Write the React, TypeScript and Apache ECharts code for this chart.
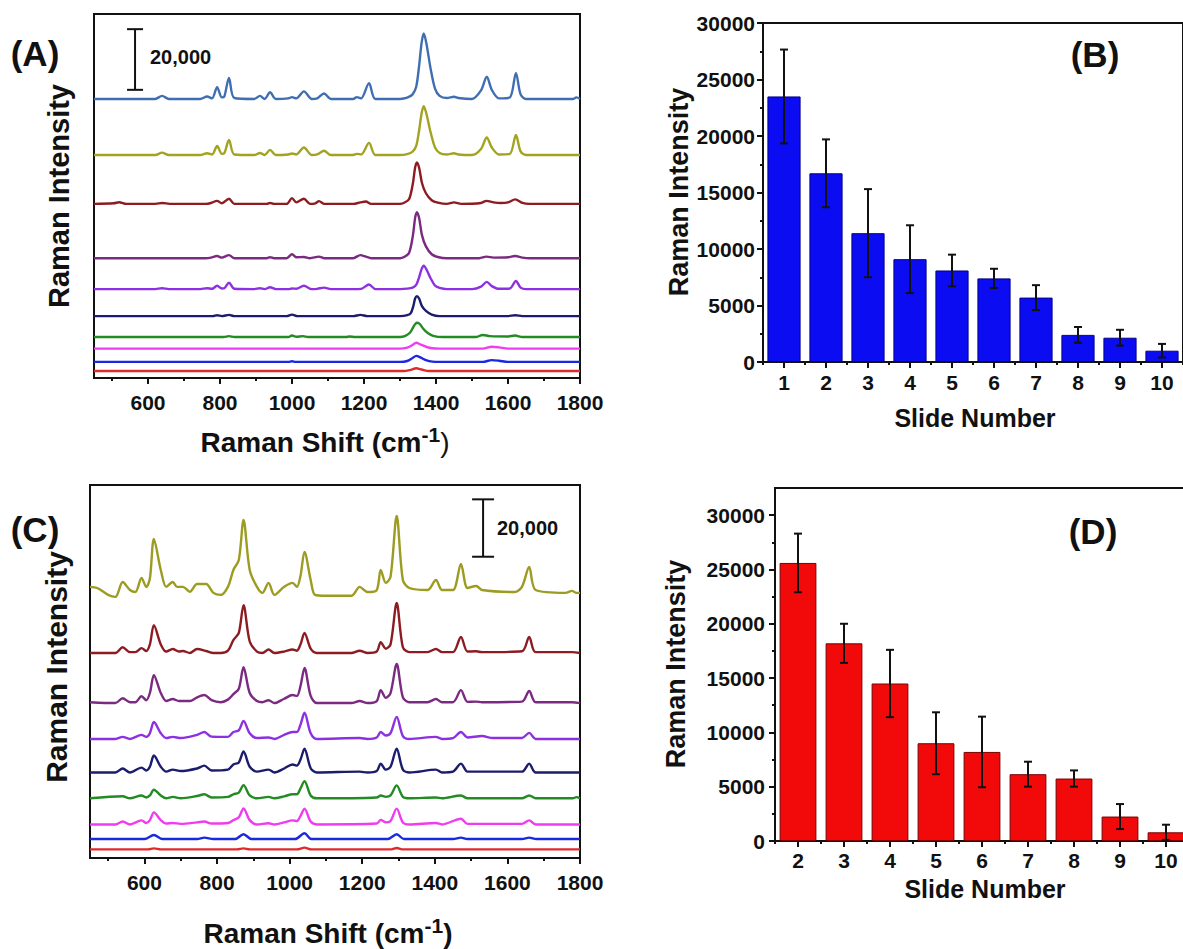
import React, { useEffect, useRef } from 'react';
import * as echarts from 'echarts';

const FONT = '"Liberation Sans", Arial, Helvetica, sans-serif';
const INK = '#111111';

// ---------- Panel A : Raman spectra (offset stacks) ----------
const shiftTicks = [600, 800, 1000, 1200, 1400, 1600, 1800];
const shiftMinorTicks = [500, 700, 900, 1100, 1300, 1500, 1700];
const colorsA = ['#3f6fb2', '#a3a322', '#8c1c22', '#7a2a80', '#8c30e2', '#1c1c6e', '#228b22', '#f03cf0', '#1a28e0', '#e02a2a'];
const offsetsA = [92000, 73500, 57400, 39500, 29300, 20400, 13500, 9700, 5300, 2300];
const specA1 = [[450,0],[620,0],[639,1000],[658,0],[745,0],[764,800],[778,200],[792,3900],[805,500],[812,800],[825,6900],[840,300],[895,0],[911,1000],[924,0],[939,2200],[955,0],[990,200],[1000,600],[1012,200],[1033,2500],[1055,0],[1070,200],[1089,1800],[1108,0],[1170,0],[1180,600],[1192,200],[1214,5200],[1232,0],[1300,0],[1320,400],[1335,1500],[1345,4000],[1353,10800],[1360,18500],[1366,21600],[1373,18500],[1385,10000],[1397,3500],[1410,1000],[1430,300],[1450,700],[1462,300],[1500,0],[1525,2800],[1541,7300],[1555,3000],[1575,200],[1605,500],[1622,8500],[1635,1500],[1650,0],[1780,0],[1790,500],[1800,0]];
const specA2 = [[450,0],[620,0],[639,800],[658,0],[745,0],[764,600],[778,200],[792,3000],[805,400],[812,600],[825,5000],[840,200],[895,0],[911,700],[924,0],[939,1700],[955,0],[990,200],[1000,500],[1012,200],[1033,2500],[1055,0],[1070,200],[1089,1400],[1108,0],[1170,0],[1180,400],[1192,200],[1214,4000],[1232,0],[1300,0],[1320,300],[1335,1100],[1345,3000],[1353,8000],[1360,13800],[1366,16100],[1373,13800],[1385,7500],[1397,2600],[1410,700],[1430,200],[1450,600],[1462,200],[1500,0],[1525,2000],[1541,5800],[1555,2500],[1575,200],[1605,400],[1622,6600],[1635,1200],[1650,0],[1800,0]];
const specA3 = [[450,0],[505,200],[520,550],[540,0],[620,0],[640,300],[660,0],[760,0],[775,300],[792,1000],[805,200],[825,1700],[840,0],[930,0],[939,300],[950,0],[985,0],[1000,1900],[1012,500],[1033,1700],[1050,0],[1065,200],[1075,900],[1090,0],[1170,0],[1190,500],[1205,800],[1220,0],[1300,0],[1310,300],[1325,1500],[1336,6900],[1342,12000],[1347,13700],[1353,12000],[1361,6900],[1372,3500],[1388,1200],[1405,400],[1430,0],[1450,500],[1470,0],[1525,300],[1540,1000],[1560,500],[1580,300],[1600,500],[1620,1500],[1640,300],[1660,0],[1800,0]];
const specA4 = [[450,0],[640,0],[760,0],[775,200],[792,700],[805,200],[825,1000],[840,0],[930,0],[939,300],[950,0],[985,0],[1000,1300],[1012,300],[1033,400],[1050,0],[1075,500],[1090,0],[1170,0],[1190,1000],[1205,500],[1220,0],[1300,0],[1310,300],[1325,1700],[1336,7600],[1342,13300],[1347,15200],[1353,13300],[1361,7600],[1372,3900],[1388,1300],[1405,400],[1430,0],[1520,0],[1540,500],[1560,200],[1600,300],[1620,700],[1640,200],[1660,0],[1800,0]];
const specA5 = [[450,0],[620,0],[639,300],[658,0],[745,0],[764,300],[778,100],[792,1100],[805,200],[812,300],[825,2100],[840,100],[895,0],[911,300],[924,0],[939,600],[955,0],[990,0],[1000,200],[1012,100],[1033,1100],[1055,0],[1070,100],[1089,500],[1108,0],[1170,0],[1192,100],[1214,1500],[1232,0],[1300,0],[1320,150],[1335,500],[1345,1400],[1353,3900],[1360,6600],[1366,7700],[1373,6600],[1385,3600],[1397,1200],[1410,400],[1430,0],[1500,0],[1525,800],[1541,2400],[1555,1000],[1575,100],[1605,200],[1622,2700],[1635,500],[1650,0],[1800,0]];
const specA6 = [[450,0],[780,0],[792,300],[805,0],[825,400],[840,0],[985,0],[1000,500],[1015,0],[1170,0],[1190,400],[1210,0],[1300,0],[1320,300],[1330,1000],[1337,3300],[1342,5800],[1347,6600],[1353,5800],[1361,3300],[1372,1700],[1388,500],[1410,0],[1600,0],[1620,300],[1640,0],[1800,0]];
const specA7 = [[450,0],[810,0],[825,300],[840,0],[990,0],[1000,500],[1012,100],[1030,300],[1045,0],[1150,0],[1160,200],[1175,0],[1300,0],[1315,400],[1328,1500],[1337,3300],[1343,4400],[1348,4700],[1355,4300],[1364,2800],[1376,1400],[1392,400],[1420,0],[1510,0],[1530,700],[1550,300],[1600,200],[1620,500],[1640,0],[1800,0]];
const specA8 = [[450,0],[1300,0],[1320,300],[1335,1200],[1345,1900],[1358,1300],[1372,600],[1390,100],[1410,0],[1530,0],[1555,600],[1575,400],[1600,0],[1800,0]];
const specA9 = [[450,0],[990,0],[1000,200],[1010,0],[1300,0],[1320,300],[1335,1300],[1345,2000],[1358,1400],[1372,600],[1390,100],[1410,0],[1530,0],[1555,600],[1575,400],[1600,0],[1800,0]];
const specA10 = [[450,0],[1310,0],[1330,400],[1345,900],[1360,500],[1380,0],[1800,0]];
const spectraA = [specA1, specA2, specA3, specA4, specA5, specA6, specA7, specA8, specA9, specA10];
const scaleBarA = [[564, 95000, 115000]];

// ---------- Panel B : slides 1-10 ----------
const slidesB = ['1', '2', '3', '4', '5', '6', '7', '8', '9', '10'];
const meanB = [23500, 16700, 11400, 9100, 8100, 7400, 5700, 2400, 2150, 1000];
const errB = [4150, 3000, 3900, 3000, 1400, 850, 1100, 700, 700, 600];

// ---------- Panel C : Raman spectra (offset stacks) ----------
const colorsC = ['#9c9c22', '#8c1c22', '#7a2a80', '#8c30e2', '#1c1c6e', '#228b22', '#f03cf0', '#1a28e0', '#e02a2a'];
const offsetsC = [92400, 71450, 54000, 41500, 29800, 20800, 11700, 6600, 3000];
const specC1 = [[450,2100],[470,1700],[500,-700],[520,-1400],[540,3800],[560,1000],[575,300],[592,5200],[605,2100],[615,5000],[626,18800],[645,8000],[660,2100],[678,3800],[690,2100],[706,2100],[725,400],[745,3100],[770,3100],[790,0],[810,-700],[830,2100],[845,8000],[860,11500],[873,25400],[890,8000],[910,2100],[925,0],[942,3500],[958,-700],[985,2100],[1008,3500],[1020,2100],[1030,6000],[1041,14300],[1058,4500],[1070,-700],[1100,-1000],[1170,-1000],[1193,2100],[1215,300],[1240,1000],[1251,8000],[1265,3500],[1278,5600],[1295,26800],[1312,4500],[1330,1700],[1380,1000],[1403,4500],[1420,1000],[1450,1000],[1472,10100],[1490,1700],[1514,2400],[1530,1000],[1620,300],[1640,2100],[1660,9000],[1678,1000],[1760,0],[1778,700],[1790,0],[1800,0]];
const specC2 = [[450,0],[520,0],[540,2000],[560,300],[575,300],[592,1700],[605,700],[615,3000],[626,9700],[645,3000],[660,500],[678,1400],[695,500],[706,700],[725,0],[745,1400],[770,700],[790,0],[810,0],[830,800],[845,4500],[860,7000],[873,16700],[890,4000],[910,500],[925,0],[942,1200],[958,0],[985,500],[1008,1200],[1020,800],[1030,3000],[1041,7000],[1058,1500],[1075,0],[1170,0],[1193,800],[1215,0],[1240,500],[1251,3800],[1265,1500],[1278,3000],[1295,17400],[1312,2000],[1330,300],[1380,300],[1403,1400],[1420,300],[1450,300],[1472,5600],[1490,500],[1514,600],[1530,300],[1640,600],[1660,5600],[1678,300],[1778,300],[1800,0]];
const specC3 = [[450,300],[520,0],[540,1700],[560,300],[575,300],[592,2400],[605,1000],[615,3500],[626,9700],[645,3500],[660,700],[678,1400],[695,700],[725,700],[745,2000],[765,2800],[785,1000],[810,300],[830,1200],[845,3100],[860,5000],[873,12500],[890,3500],[910,700],[925,300],[942,1000],[958,0],[985,1500],[1008,2800],[1020,2500],[1030,6000],[1041,12200],[1058,2500],[1075,0],[1170,0],[1193,700],[1215,0],[1240,700],[1251,4500],[1265,1800],[1278,3500],[1295,13600],[1312,2000],[1330,300],[1380,300],[1403,1400],[1420,300],[1450,300],[1472,4500],[1490,400],[1514,500],[1530,300],[1640,500],[1660,4200],[1678,300],[1778,300],[1800,0]];
const specC4 = [[450,0],[520,0],[540,700],[560,0],[592,1400],[605,700],[615,2000],[626,5900],[645,2000],[660,300],[678,700],[700,300],[745,1400],[765,2400],[785,800],[830,700],[845,2400],[860,3000],[873,6300],[890,2000],[910,300],[942,500],[958,0],[985,1400],[1008,2400],[1020,2400],[1030,5000],[1041,9100],[1058,2000],[1075,0],[1193,300],[1215,0],[1240,500],[1251,2400],[1265,1200],[1278,2000],[1295,7700],[1312,1000],[1330,0],[1403,700],[1420,0],[1450,300],[1472,2400],[1490,500],[1530,1000],[1560,300],[1640,300],[1660,2100],[1678,0],[1800,0]];
const specC5 = [[450,0],[520,0],[540,1400],[560,0],[592,1700],[605,700],[615,2000],[626,5900],[645,2000],[660,300],[678,1000],[700,500],[745,1400],[765,2400],[785,700],[830,1000],[845,2800],[860,3500],[873,7300],[890,2000],[910,300],[942,1000],[958,0],[985,1400],[1008,2800],[1020,2400],[1030,4500],[1041,8300],[1058,1500],[1075,0],[1193,300],[1215,0],[1240,500],[1251,3100],[1265,1000],[1278,2000],[1295,8300],[1312,1000],[1330,0],[1403,1000],[1420,0],[1450,300],[1472,3100],[1490,300],[1514,300],[1640,300],[1660,3100],[1678,0],[1800,0]];
const specC6 = [[450,0],[540,700],[560,0],[592,1000],[605,300],[615,1000],[626,3000],[645,1000],[660,0],[678,500],[700,0],[745,800],[765,1400],[785,300],[830,500],[845,1400],[860,2000],[873,4600],[890,1000],[910,0],[942,500],[958,0],[985,700],[1008,1400],[1020,1400],[1030,3500],[1041,6000],[1058,1000],[1075,0],[1240,300],[1251,1000],[1265,500],[1278,1000],[1295,4500],[1312,500],[1330,0],[1403,300],[1420,0],[1472,1000],[1490,0],[1640,0],[1660,1000],[1678,0],[1780,0],[1790,400],[1800,0]];
const specC7 = [[450,0],[520,0],[540,1000],[560,0],[592,1400],[605,500],[615,1500],[626,4200],[645,1500],[660,300],[678,500],[700,200],[745,700],[765,1000],[785,300],[830,500],[845,1500],[860,2500],[873,5600],[890,1500],[910,0],[942,400],[958,0],[985,700],[1008,1400],[1020,1200],[1030,3000],[1041,5500],[1058,1000],[1075,0],[1240,300],[1251,1600],[1265,700],[1278,1200],[1295,5500],[1312,700],[1330,0],[1403,500],[1420,0],[1472,2000],[1490,200],[1640,200],[1660,1400],[1678,0],[1800,0]];
const specC8 = [[450,0],[600,0],[626,1400],[650,0],[745,0],[765,500],[790,0],[850,0],[873,1700],[895,0],[1015,0],[1041,2000],[1060,0],[1270,0],[1295,1700],[1315,0],[1450,0],[1472,500],[1490,0],[1640,0],[1660,500],[1680,0],[1800,0]];
const specC9 = [[450,0],[610,0],[626,350],[645,0],[855,0],[873,350],[890,0],[1020,0],[1041,600],[1060,0],[1280,0],[1295,500],[1310,0],[1800,0]];
const spectraC = [specC1, specC2, specC3, specC4, specC5, specC6, specC7, specC8, specC9];
const scaleBarC = [[1533, 105000, 125000]];

// ---------- Panel D : slides 2-10 ----------
const slidesD = ['2', '3', '4', '5', '6', '7', '8', '9', '10'];
const meanD = [25600, 18200, 14500, 9000, 8200, 6150, 5750, 2250, 800];
const errD = [2700, 1800, 3100, 2850, 3250, 1150, 750, 1150, 700];
const ticksD = [0, 5000, 10000, 15000, 20000, 25000, 30000];
const minorTicksD = [2500, 7500, 12500, 17500, 22500, 27500];

const plain = (v: number) => String(v);
const labelFont = { fontSize: 21, fontWeight: 'bold' as const, fontFamily: FONT, color: INK };

function ibeam(half: number) {
  return (_params: any, api: any) => {
    const x = api.value(0);
    const lo = api.coord([x, api.value(1)]);
    const hi = api.coord([x, api.value(2)]);
    const st = { stroke: INK, lineWidth: 2 };
    return {
      type: 'group',
      children: [
        { type: 'line', shape: { x1: lo[0], y1: lo[1], x2: hi[0], y2: hi[1] }, style: st },
        { type: 'line', shape: { x1: lo[0] - half, y1: lo[1], x2: lo[0] + half, y2: lo[1] }, style: st },
        { type: 'line', shape: { x1: hi[0] - half, y1: hi[1], x2: hi[0] + half, y2: hi[1] }, style: st },
      ],
    };
  };
}

function txt(text: string, x: number, y: number, size: number, rot = 0, align = 'center') {
  return {
    type: 'text', x, y, rotation: rot, silent: true,
    style: { text, fontSize: size, fontWeight: 'bold', fontFamily: FONT, fill: INK, align, verticalAlign: 'middle' },
  };
}

function shiftTitle(x: number, y: number, closeWeight: string) {
  return {
    type: 'text', x, y, silent: true,
    style: {
      text: '{a|Raman Shift (cm}{s|-1}{c|)}',
      align: 'center', verticalAlign: 'middle',
      rich: {
        a: { fontSize: 28, fontWeight: 'bold', fontFamily: FONT, fill: INK, lineHeight: 36 },
        s: { fontSize: 21, fontWeight: 'bold', fontFamily: FONT, fill: INK, verticalAlign: 'top', lineHeight: 21 },
        c: { fontSize: 28, fontWeight: closeWeight, fontFamily: FONT, fill: INK, lineHeight: 36 },
      },
    },
  };
}

function spectrumAxes(grid: number) {
  return [
    {
      type: 'value', gridIndex: grid, position: 'bottom', min: 450, max: 1800, splitNumber: 7,
      axisLine: { show: false, onZero: false }, splitLine: { show: false },
      axisTick: { show: true, inside: false, length: 6, lineStyle: { color: INK, width: 2 }, customValues: shiftTicks },
      axisLabel: { ...labelFont, margin: 14, customValues: shiftTicks, formatter: plain },
    },
    {
      type: 'value', gridIndex: grid, position: 'bottom', min: 450, max: 1800, splitNumber: 14,
      axisLine: { show: false, onZero: false }, splitLine: { show: false },
      axisTick: { show: true, inside: false, length: 3, lineStyle: { color: INK, width: 2 }, customValues: shiftMinorTicks },
      axisLabel: { show: false },
    },
  ];
}

function categoryAxes(grid: number, data: string[], margin: number) {
  return [
    {
      type: 'category', gridIndex: grid, position: 'bottom', data,
      axisLine: { show: true, onZero: false, lineStyle: { color: INK, width: 2 } },
      axisTick: { show: true, alignWithLabel: true, length: 6, lineStyle: { color: INK, width: 2 } },
      axisLabel: { ...labelFont, margin },
    },
    {
      type: 'category', gridIndex: grid, position: 'bottom', data,
      axisLine: { show: false, onZero: false },
      axisTick: { show: true, alignWithLabel: false, length: 3, lineStyle: { color: INK, width: 2 } },
      axisLabel: { show: false },
    },
  ];
}

export default function App() {
  const ref = useRef<HTMLDivElement>(null);
  useEffect(() => {
    if (!ref.current) return;
    const chart = echarts.init(ref.current, undefined, { renderer: 'svg' });
    const gridBase = { show: true, borderColor: INK, borderWidth: 2, backgroundColor: 'transparent', containLabel: false, outerBoundsMode: 'none' };

    // axis indices: x [A0,A1,B2,B3,C4,C5,D6,D7], y [A0,B1,C2,D3,D4]
    const series: any[] = [];
    spectraA.forEach((s, i) => {
      series.push({
        type: 'line', xAxisIndex: 0, yAxisIndex: 0, symbol: 'none', smooth: 0.3,
        data: s.map(([x, h]) => [x, h + offsetsA[i]]),
        lineStyle: { color: colorsA[i], width: 2.4 }, itemStyle: { color: colorsA[i] },
      });
    });
    series.push({
      type: 'custom', xAxisIndex: 0, yAxisIndex: 0, renderItem: ibeam(8),
      data: scaleBarA, encode: { x: 0, y: [1, 2] }, z: 5,
    });
    series.push({
      type: 'bar', xAxisIndex: 2, yAxisIndex: 1, data: meanB, barWidth: '79%',
      itemStyle: { color: '#0c0cf2', borderColor: '#00008a', borderWidth: 1 },
    });
    series.push({
      type: 'custom', xAxisIndex: 2, yAxisIndex: 1, renderItem: ibeam(4), z: 5,
      data: meanB.map((v, i) => [i, v - errB[i], v + errB[i]]), encode: { x: 0, y: [1, 2] },
    });
    spectraC.forEach((s, i) => {
      series.push({
        type: 'line', xAxisIndex: 4, yAxisIndex: 2, symbol: 'none', smooth: 0.3,
        data: s.map(([x, h]) => [x, h + offsetsC[i]]),
        lineStyle: { color: colorsC[i], width: 2.4 }, itemStyle: { color: colorsC[i] },
      });
    });
    series.push({
      type: 'custom', xAxisIndex: 4, yAxisIndex: 2, renderItem: ibeam(11),
      data: scaleBarC, encode: { x: 0, y: [1, 2] }, z: 5,
    });
    series.push({
      type: 'bar', xAxisIndex: 6, yAxisIndex: 3, data: meanD, barWidth: '80%',
      itemStyle: { color: '#f20a0a', borderColor: '#7a0000', borderWidth: 1 },
    });
    series.push({
      type: 'custom', xAxisIndex: 6, yAxisIndex: 3, renderItem: ibeam(4), z: 5,
      data: meanD.map((v, i) => [i, v - errD[i], v + errD[i]]), encode: { x: 0, y: [1, 2] },
    });

    const option: any = {
      animation: false,
      backgroundColor: '#ffffff',
      grid: [
        { ...gridBase, left: 94, top: 14, width: 486, height: 364 },
        { ...gridBase, left: 763, top: 23, width: 420, height: 339 },
        { ...gridBase, left: 90, top: 485, width: 490, height: 373 },
        { ...gridBase, left: 775, top: 488, width: 414, height: 353 },
      ],
      xAxis: [
        ...spectrumAxes(0),
        ...categoryAxes(1, slidesB, 10),
        ...spectrumAxes(2),
        ...categoryAxes(3, slidesD, 9),
      ],
      yAxis: [
        { type: 'value', gridIndex: 0, min: 0, max: 120000, show: false },
        {
          type: 'value', gridIndex: 1, position: 'left', min: 0, max: 30000, interval: 5000,
          axisLine: { show: true, lineStyle: { color: INK, width: 2 } },
          axisTick: { show: true, length: 6, lineStyle: { color: INK, width: 2 } },
          minorTick: { show: true, splitNumber: 2, length: 3, lineStyle: { color: INK, width: 2 } },
          splitLine: { show: false }, minorSplitLine: { show: false },
          axisLabel: { ...labelFont, margin: 8, formatter: plain },
        },
        { type: 'value', gridIndex: 2, min: 0, max: 130000, show: false },
        {
          type: 'value', gridIndex: 3, position: 'left', min: 0, max: 32500, interval: 5000,
          axisLine: { show: true, lineStyle: { color: INK, width: 2 } },
          axisTick: { show: true, length: 6, lineStyle: { color: INK, width: 2 }, customValues: ticksD },
          splitLine: { show: false },
          axisLabel: { ...labelFont, margin: 10, customValues: ticksD, formatter: plain },
        },
        {
          type: 'value', gridIndex: 3, position: 'left', min: 0, max: 32500,
          axisLine: { show: false },
          axisTick: { show: true, length: 3, lineStyle: { color: INK, width: 2 }, customValues: minorTicksD },
          splitLine: { show: false },
          axisLabel: { show: false },
        },
      ],
      graphic: [
        txt('(A)', 35, 53, 35),
        txt('(B)', 1095, 54, 35),
        txt('(C)', 35, 529, 35),
        txt('(D)', 1093, 531, 35),
        txt('20,000', 150, 57, 20, 0, 'left'),
        txt('20,000', 497, 528, 20, 0, 'left'),
        txt('Raman Intensity', 59, 196, 29, Math.PI / 2),
        txt('Raman Intensity', 679, 192, 27, Math.PI / 2),
        txt('Raman Intensity', 56, 667, 30, Math.PI / 2),
        txt('Raman Intensity', 676, 664, 27, Math.PI / 2),
        shiftTitle(325, 442, 'normal'),
        shiftTitle(328, 933, 'bold'),
        txt('Slide Number', 975, 418, 25),
        txt('Slide Number', 985, 889, 25),
      ],
      series,
    };
    chart.setOption(option);
    return () => chart.dispose();
  }, []);

  return (
    <div style={{ position: 'absolute', left: 0, top: 0, width: 1183, height: 949, overflow: 'hidden', background: '#fff' }}>
      <div ref={ref} style={{ width: 1200, height: 949 }} />
    </div>
  );
}
